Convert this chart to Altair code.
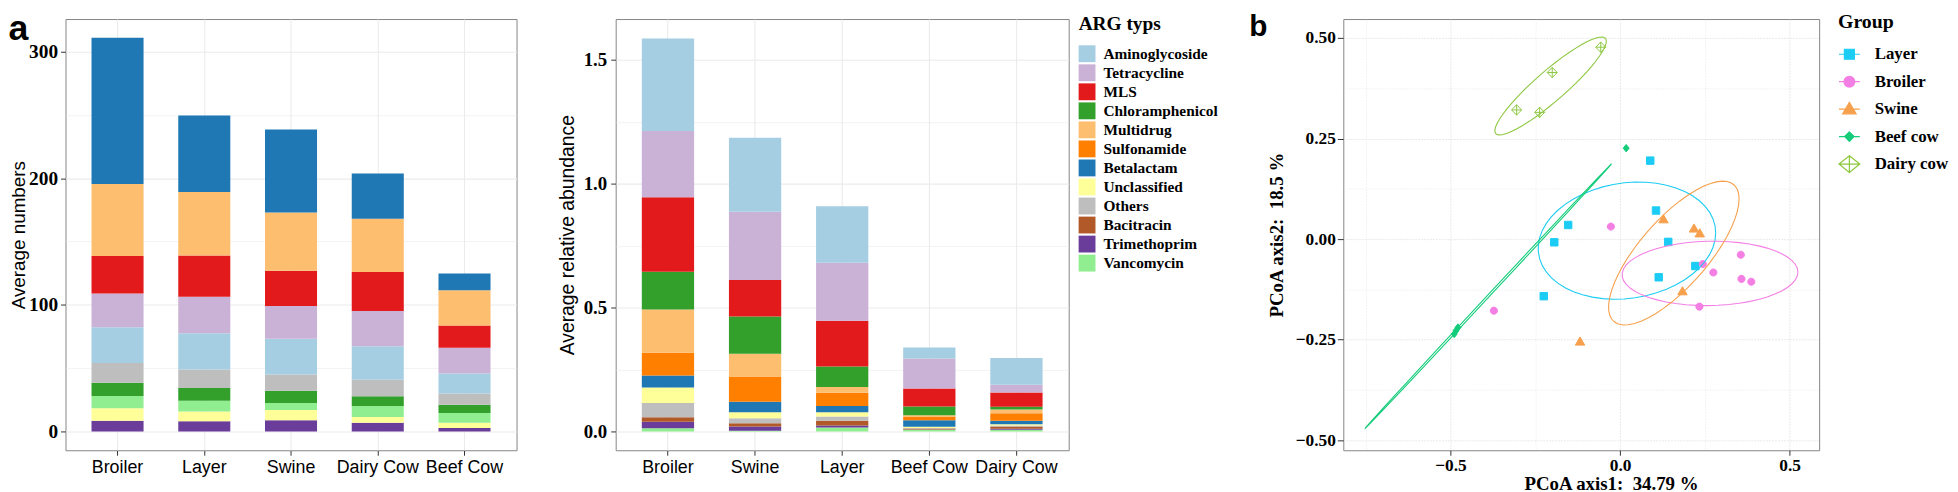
import numpy as np
import pandas as pd
import altair as alt

# ---------------- data ----------------
ARG_TYPES = ["Aminoglycoside", "Tetracycline", "MLS", "Chloramphenicol", "Multidrug", "Sulfonamide",
             "Betalactam", "Unclassified", "Others", "Bacitracin", "Trimethoprim", "Vancomycin"]
ARG_COLORS = ["#A6CEE3", "#CAB2D6", "#E31A1C", "#33A02C", "#FDBF6F", "#FF7F00",
              "#1F78B4", "#FFFF99", "#BEBEBE", "#B15928", "#6A3D9A", "#90EE90"]

# panel a (left): average numbers, stacked bottom -> top
NUM_HOSTS = ["Broiler", "Layer", "Swine", "Dairy Cow", "Beef Cow"]
NUM_STACK = ["Trimethoprim", "Unclassified", "Vancomycin", "Chloramphenicol", "Others",
             "Aminoglycoside", "Tetracycline", "MLS", "Multidrug", "Betalactam"]
NUM_BROILER = [8.4, 9.9, 9.7, 10.4, 15.7, 28.2, 26.7, 29.5, 57.0, 115.5]
NUM_LAYER = [8.1, 7.6, 8.6, 9.9, 14.7, 28.7, 28.7, 32.7, 50.2, 60.3]
NUM_SWINE = [8.9, 8.1, 5.5, 9.6, 12.8, 28.3, 25.8, 28.0, 46.0, 65.6]
NUM_DAIRY = [6.9, 4.4, 8.8, 7.7, 13.0, 26.4, 27.9, 30.8, 42.2, 35.6]
NUM_BEEF = [2.6, 4.2, 7.8, 6.5, 8.9, 15.7, 20.4, 17.5, 27.9, 13.3]

# panel a (right): average relative abundance, stacked bottom -> top
ABD_HOSTS = ["Broiler", "Swine", "Layer", "Beef Cow", "Dairy Cow"]
ABD_STACK = ["Vancomycin", "Trimethoprim", "Bacitracin", "Others", "Unclassified", "Betalactam",
             "Sulfonamide", "Multidrug", "Chloramphenicol", "MLS", "Tetracycline", "Aminoglycoside"]
ABD_BROILER = [0.013, 0.026, 0.018, 0.058, 0.062, 0.049, 0.092, 0.174, 0.153, 0.300, 0.268, 0.373]
ABD_SWINE = [0.003, 0.017, 0.013, 0.020, 0.024, 0.043, 0.102, 0.092, 0.150, 0.147, 0.276, 0.299]
ABD_LAYER = [0.016, 0.008, 0.019, 0.017, 0.017, 0.026, 0.053, 0.023, 0.083, 0.185, 0.234, 0.228]
ABD_BEEF = [0.007, 0.001, 0.004, 0.002, 0.005, 0.026, 0.015, 0.005, 0.036, 0.072, 0.121, 0.045]
ABD_DAIRY = [0.007, 0.004, 0.009, 0.004, 0.005, 0.014, 0.030, 0.016, 0.011, 0.057, 0.032, 0.107]

# panel b: PCoA
PCOA_GROUPS = ["Layer", "Broiler", "Swine", "Beef cow", "Dairy cow"]
PCOA_COLORS = ["#1CCCF4", "#F47FE4", "#F6A04D", "#14CC7A", "#8DC73F"]
LAYER_X = [0.089, 0.106, -0.153, -0.194, 0.142, 0.222, 0.114, -0.225]
LAYER_Y = [0.195, 0.071, 0.035, -0.008, -0.007, -0.067, -0.095, -0.142]
BROILER_X = [-0.027, 0.356, 0.244, 0.275, 0.358, 0.387, 0.234, -0.372]
BROILER_Y = [0.031, -0.039, -0.062, -0.083, -0.099, -0.106, -0.168, -0.178]
SWINE_X = [0.128, 0.218, 0.235, 0.184, -0.118]
SWINE_Y = [0.049, 0.026, 0.014, -0.130, -0.255]
BEEF_X = [0.018, -0.478, -0.484, -0.489]
BEEF_Y = [0.226, -0.220, -0.228, -0.236]
DAIRY_X = [-0.057, -0.200, -0.305, -0.237]
DAIRY_Y = [0.477, 0.414, 0.321, 0.315]

SERIF = "Liberation Serif"
SANS = "Liberation Sans"
BORDER = "#858585"
GRID = "#EBEBEB"
TICK = "#333333"

# ---------------- tables ----------------
rows = []
for host, vals in zip(NUM_HOSTS, [NUM_BROILER, NUM_LAYER, NUM_SWINE, NUM_DAIRY, NUM_BEEF]):
    for rank, (t, v) in enumerate(zip(NUM_STACK, vals)):
        rows.append({"host": host, "type": t, "value": v, "rank": rank})
num_df = pd.DataFrame(rows)

rows = []
for host, vals in zip(ABD_HOSTS, [ABD_BROILER, ABD_SWINE, ABD_LAYER, ABD_BEEF, ABD_DAIRY]):
    for rank, (t, v) in enumerate(zip(ABD_STACK, vals)):
        rows.append({"host": host, "type": t, "value": v, "rank": rank})
abd_df = pd.DataFrame(rows)

pcoa_xy = {"Layer": (LAYER_X, LAYER_Y), "Broiler": (BROILER_X, BROILER_Y), "Swine": (SWINE_X, SWINE_Y),
           "Beef cow": (BEEF_X, BEEF_Y), "Dairy cow": (DAIRY_X, DAIRY_Y)}
rows = []
for g in PCOA_GROUPS:
    for x, y in zip(*pcoa_xy[g]):
        rows.append({"group": g, "x": x, "y": y})
pts_df = pd.DataFrame(rows)


def cov_trob(x, nu=5, maxit=25, tol=0.01):
    # robust t covariance, as MASS::cov.trob (used by ggplot2 stat_ellipse type "t")
    x = np.asarray(x, dtype=float)
    n, p = x.shape
    wt = np.ones(n)
    loc = x.mean(axis=0)
    w = np.sqrt(wt)
    X = x - loc
    for _ in range(maxit):
        w0 = w
        X = x - loc
        A = np.sqrt(w / w.sum())[:, None] * X
        _, d, vt = np.linalg.svd(A, full_matrices=False)
        wX = X @ vt.T @ np.diag(1.0 / d)
        Q = (wX ** 2).sum(axis=1)
        w = wt * (nu + p) / (nu + Q)
        loc = (w[:, None] * x).sum(axis=0) / w.sum()
        if np.all(np.abs(w - w0) < tol):
            break
    sw = np.sqrt(w)[:, None] * X
    return sw.T @ sw / wt.sum(), loc


def t_ellipse(xs, ys, level=0.68, segments=51):
    cov, center = cov_trob(np.column_stack([xs, ys]))
    dfd = len(xs) - 1
    qf = dfd / 2.0 * ((1 - level) ** (-2.0 / dfd) - 1)
    radius = np.sqrt(2 * qf)
    R = np.linalg.cholesky(cov).T
    ang = np.arange(segments + 1) * 2 * np.pi / segments
    circ = np.column_stack([np.cos(ang), np.sin(ang)])
    return center + radius * circ @ R


rows = []
for g in PCOA_GROUPS:
    e = t_ellipse(*pcoa_xy[g])
    for i, (x, y) in enumerate(e):
        rows.append({"group": g, "x": x, "y": y, "idx": i})
ell_df = pd.DataFrame(rows)


# ---------------- helpers ----------------
def minor_cond(test, minor_val, major_val):
    return {"condition": {"test": test, "value": minor_val}, "value": major_val}


def band_x(sort):
    return alt.X("host:N", sort=sort, title=None,
                 scale=alt.Scale(paddingInner=0.4, paddingOuter=0.3),
                 axis=alt.Axis(labelAngle=0, labelFont=SANS, labelFontSize=18, labelColor="black",
                               labelPadding=3, tickSize=5, tickColor=TICK, domain=False, grid=True,
                               gridColor=GRID, gridWidth=1.1, bandPosition=0.5))


# ---------------- panel a, left ----------------
test1 = "datum.value % 100 !== 0"
bars1 = alt.Chart(num_df).mark_bar().encode(
    x=band_x(NUM_HOSTS),
    y=alt.Y("value:Q", stack="zero",
            scale=alt.Scale(domain=[-14.9, 325.8], nice=False, zero=False),
            axis=alt.Axis(values=[0, 50, 100, 150, 200, 250, 300],
                          labelExpr="datum.value % 100 === 0 ? datum.label : ''",
                          tickOpacity=minor_cond(test1, 0, 1),
                          gridWidth=minor_cond(test1, 0.6, 1.1), gridColor=GRID,
                          labelFont=SERIF, labelFontWeight="bold", labelFontSize=19.5, labelColor="black",
                          labelPadding=3, tickSize=5, tickColor=TICK, domain=False,
                          title="Average numbers", titleFont=SANS, titleFontWeight="normal",
                          titleFontSize=19, titleColor="black", titlePadding=0)),
    color=alt.Color("type:N", scale=alt.Scale(domain=ARG_TYPES, range=ARG_COLORS), legend=None),
    order=alt.Order("rank:Q", sort="ascending"),
)
a_lbl = alt.Chart(alt.Data(values=[{"t": "a"}])).mark_text(
    font=SANS, fontWeight="bold", fontSize=36, align="left", baseline="alphabetic", color="black"
).encode(text="t:N", x=alt.value(-57.5), y=alt.value(21))
panel_a1 = alt.layer(bars1, a_lbl).properties(width=455, height=435)

# ---------------- panel a, right ----------------
test2 = "(datum.value * 2) % 1 !== 0"
bars2 = alt.Chart(abd_df).mark_bar().encode(
    x=band_x(ABD_HOSTS),
    y=alt.Y("value:Q", stack="zero",
            scale=alt.Scale(domain=[-0.076, 1.665], nice=False, zero=False),
            axis=alt.Axis(values=[0, 0.25, 0.5, 0.75, 1.0, 1.25, 1.5], format=".1f",
                          labelExpr="(datum.value * 2) % 1 === 0 ? datum.label : ''",
                          tickOpacity=minor_cond(test2, 0, 1),
                          gridWidth=minor_cond(test2, 0.6, 1.1), gridColor=GRID,
                          labelFont=SERIF, labelFontWeight="bold", labelFontSize=19, labelColor="black",
                          labelPadding=4, tickSize=5, tickColor=TICK, domain=False,
                          title="Average relative abundance", titleFont=SANS, titleFontWeight="normal",
                          titleFontSize=19.5, titleColor="black", titlePadding=6)),
    color=alt.Color("type:N", scale=alt.Scale(domain=ARG_TYPES, range=ARG_COLORS),
                    legend=alt.Legend(title="ARG typs", orient="none", legendX=467, legendY=-4,
                                      titleFont=SERIF, titleFontSize=19.5, titleFontWeight="bold",
                                      titleColor="black", titlePadding=11,
                                      labelFont=SERIF, labelFontSize=15.5, labelFontWeight="bold",
                                      labelColor="black", labelOffset=8, labelLimit=300,
                                      symbolType="square", symbolSize=289, symbolStrokeWidth=0,
                                      symbolOpacity=1, rowPadding=2.2, padding=0)),
    order=alt.Order("rank:Q", sort="ascending"),
)
panel_a2 = bars2.properties(width=457, height=435)

# ---------------- panel b ----------------
PT_PATHS = [
    "M-0.75,-0.75L0.75,-0.75L0.75,0.75L-0.75,0.75Z",
    "M0.72,0A0.72,0.72,0,1,1,-0.72,0A0.72,0.72,0,1,1,0.72,0Z",
    "M0,-0.95L0.95,0.7L-0.95,0.7Z",
    "M0,-0.75L0.6,0L0,0.75L-0.6,0Z",
    "M0,-1.05L1,0L0,1.05L-1,0ZM0,-1.05L0,1.05M-1,0L1,0",
]
LEG_PATHS = [
    "M-1,0L1,0M-0.48,-0.48L0.48,-0.48L0.48,0.48L-0.48,0.48Z",
    "M-1,0L1,0M0.52,0A0.52,0.52,0,1,1,-0.52,0A0.52,0.52,0,1,1,0.52,0Z",
    "M-1,0L1,0M0,-0.65L0.65,0.45L-0.65,0.45Z",
    "M-1,0L1,0M0,-0.45L0.45,0L0,0.45L-0.45,0Z",
    "M-1,0L1,0M0,-0.8L1,0L0,0.8L-1,0ZM0,-0.8L0,0.8",
]
FILLS = PCOA_COLORS[:4] + ["transparent"]

xsc = alt.Scale(domain=[-0.816, 0.587], nice=False, zero=False)
ysc = alt.Scale(domain=[-0.525, 0.547], nice=False, zero=False)
testx = "(datum.value * 2) % 1 !== 0"
testy = "(datum.value * 4) % 1 !== 0"
x_axis = alt.Axis(values=[-0.75, -0.5, -0.25, 0, 0.25, 0.5], format=".1f",
                  labelExpr="(datum.value * 2) % 1 === 0 ? datum.label : ''",
                  tickOpacity=minor_cond(testx, 0, 1), gridWidth=minor_cond(testx, 0.5, 0.9),
                  gridColor="#E6E6E6", gridDash=[2, 1],
                  labelFont=SERIF, labelFontWeight="bold", labelFontSize=17.5, labelColor="black",
                  labelPadding=1, tickSize=5, tickColor=TICK, domain=False,
                  title="PCoA axis1:\u00a0 34.79 %", titleFont=SERIF, titleFontWeight="bold",
                  titleFontSize=19, titleColor="black", titleX=270, titleY=39.5,
                  titleAlign="center", titleBaseline="alphabetic")
y_axis = alt.Axis(values=[-0.5, -0.375, -0.25, -0.125, 0, 0.125, 0.25, 0.375, 0.5], format=".2f",
                  labelExpr="(datum.value * 4) % 1 === 0 ? datum.label : ''",
                  tickOpacity=minor_cond(testy, 0, 1), gridWidth=minor_cond(testy, 0.5, 0.9),
                  gridColor="#E6E6E6", gridDash=[2, 1],
                  labelFont=SERIF, labelFontWeight="bold", labelFontSize=17.5, labelColor="black",
                  labelPadding=2, tickSize=6, tickColor=TICK, domain=False,
                  title="PCoA axis2:\u00a0 18.5 %", titleFont=SERIF, titleFontWeight="bold",
                  titleFontSize=19, titleColor="black", titlePadding=9)

enc_x = alt.X("x:Q", scale=xsc, axis=x_axis)
enc_y = alt.Y("y:Q", scale=ysc, axis=y_axis)

pts = alt.Chart(pts_df).mark_point(size=100, opacity=1, strokeWidth=1).encode(
    x=enc_x, y=enc_y,
    shape=alt.Shape("group:N", scale=alt.Scale(domain=PCOA_GROUPS, range=PT_PATHS), legend=None),
    fill=alt.Fill("group:N", scale=alt.Scale(domain=PCOA_GROUPS, range=FILLS), legend=None),
    stroke=alt.Stroke("group:N", scale=alt.Scale(domain=PCOA_GROUPS, range=PCOA_COLORS), legend=None),
)
ell = alt.Chart(ell_df).mark_line(strokeWidth=1.1, clip=True).encode(
    x=enc_x, y=enc_y,
    detail="group:N",
    order=alt.Order("idx:Q"),
    stroke=alt.Stroke("group:N", scale=alt.Scale(domain=PCOA_GROUPS, range=PCOA_COLORS), legend=None),
)
leg_props = dict(title="Group", orient="none", legendX=499, legendY=-7,
                 titleFont=SERIF, titleFontSize=20, titleFontWeight="bold", titleColor="black",
                 titlePadding=11, labelFont=SERIF, labelFontSize=17, labelFontWeight="bold",
                 labelColor="black", labelOffset=14, labelLimit=300, symbolSize=441,
                 symbolStrokeWidth=1.2, symbolOpacity=1, rowPadding=7.7, padding=0)
leg_layer = alt.Chart(pts_df).transform_filter("false").mark_point(size=441, opacity=1, strokeWidth=1.2).encode(
    x=enc_x, y=enc_y,
    shape=alt.Shape("group:N", scale=alt.Scale(domain=PCOA_GROUPS, range=LEG_PATHS),
                    legend=alt.Legend(**leg_props)),
    fill=alt.Fill("group:N", scale=alt.Scale(domain=PCOA_GROUPS, range=FILLS),
                  legend=alt.Legend(**leg_props)),
    stroke=alt.Stroke("group:N", scale=alt.Scale(domain=PCOA_GROUPS, range=PCOA_COLORS),
                      legend=alt.Legend(**leg_props)),
)
b_lbl = alt.Chart(alt.Data(values=[{"t": "b"}])).mark_text(
    font=SANS, fontWeight="bold", fontSize=30, align="left", baseline="alphabetic", color="black"
).encode(text="t:N", x=alt.value(-95), y=alt.value(17))

panel_b = alt.layer(pts, ell, leg_layer, b_lbl).resolve_scale(
    shape="independent", fill="independent", stroke="independent"
).properties(width=480, height=435)

spacer = alt.Chart(alt.Data(values=[{"v": 0}])).mark_point(opacity=0).encode(
    x=alt.value(0), y=alt.value(0)
).properties(width=77, height=435, view=alt.ViewBackground(stroke="transparent"))

chart = alt.hconcat(panel_a1, panel_a2, spacer, panel_b, spacing=100, bounds="flush").resolve_scale(
    color="independent"
).properties(
    padding={"left": 0, "top": 0, "right": 0, "bottom": 0}
).configure_view(stroke=BORDER, strokeWidth=1)

chart.save("out.html", embed_options={"renderer": "svg", "actions": False})
